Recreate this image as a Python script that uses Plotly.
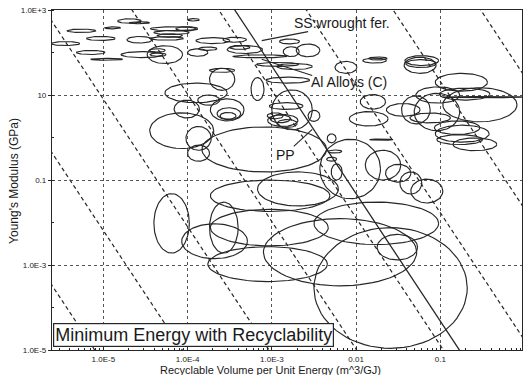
import numpy as np
import plotly.graph_objects as go

# ---- data (log10 units) ----
# ellipse centres: log10 recyclable volume per energy (m^3/GJ) and log10 Young's modulus (GPa)
ell_logV = [-4.69,-5.26,-4.89,-5.03,-5.45,-5.15,-4.96,-4.54,-4.27,-4.57,-4.57,-4.17,-4.19,-4.21,-4.25,-4.01,-3.93,-3.70,-3.88,-4.36,-4.35,-3.76,
            -3.44,-3.32,-3.38,-2.79,-2.77,-2.57,-3.14,-2.93,-2.73,-2.12,-1.78,-1.74,
            -3.59,-3.59,-3.90,-4.01,-3.75,-3.53,-3.51,-3.52,-3.17,-2.81,-2.76,-2.83,-2.87,-2.90,-2.82,-2.96,-2.50,-2.29,-2.25,-2.29,-2.23,
            -4.07,-3.87,-3.87,-3.09,
            -1.22,-1.24,-1.23,-0.75,-1.03,-0.53,-0.71,-0.49,-1.29,-1.04,-1.80,-1.44,-1.85,-0.74,-0.80,-0.77,-0.59,-1.70,-1.12,
            -2.07,-1.68,-1.50,-1.35,-1.16,
            -4.19,-3.68,-3.57,-3.03,-3.05,-1.76,-2.19,-1.59,-1.51,-3.02,-2.69]
ell_logE = [2.74,2.51,2.58,2.33,2.21,2.00,1.84,1.95,1.95,2.30,2.70,2.56,2.47,2.40,2.33,2.56,2.77,2.28,2.00,2.05,1.95,2.09,
            2.30,2.07,2.12,2.26,2.02,2.05,1.91,1.72,1.67,1.65,1.81,1.86,
            1.37,1.58,1.05,0.67,0.88,0.65,0.56,0.51,1.14,1.35,0.65,0.74,0.40,0.44,0.33,0.51,0.51,-0.02,-0.33,-0.51,-0.81,
            0.16,-0.02,-0.37,-0.28,
            1.81,1.70,1.74,1.30,1.00,0.77,1.02,0.95,0.65,0.60,0.84,0.65,0.44,0.09,0.23,-0.05,-0.16,-0.05,0.46,
            -0.74,-0.65,-0.84,-1.07,-1.26,
            -2.02,-2.44,-2.12,-2.12,-2.98,-2.02,-2.70,-3.54,-2.58,-1.37,-1.21]
# half-widths of the ellipses in decades
ell_wV = [0.14,0.17,0.095,0.17,0.17,0.17,0.19,0.25,0.21,0.15,0.12,0.27,0.21,0.15,0.20,0.13,0.07,0.20,0.12,0.095,0.095,0.11,
          0.14,0.21,0.12,0.12,0.095,0.14,0.32,0.25,0.21,0.13,0.14,0.11,
          0.15,0.15,0.37,0.15,0.13,0.20,0.14,0.095,0.077,0.26,0.24,0.20,0.18,0.12,0.12,0.095,0.07,0.053,0.083,0.06,0.065,
          0.38,0.15,0.13,0.74,
          0.20,0.19,0.18,0.31,0.26,0.44,0.30,0.48,0.17,0.27,0.15,0.20,0.23,0.32,0.27,0.27,0.26,0.14,0.24,
          0.36,0.21,0.15,0.13,0.19,
          0.21,0.39,0.17,0.70,0.71,0.74,0.91,0.91,0.24,0.71,0.48]
ell_hE = [0.053,0.04,0.023,0.047,0.047,0.047,0.023,0.07,0.21,0.077,0.023,0.047,0.047,0.04,0.04,0.047,0.028,0.07,0.088,0.04,0.04,0.04,
          0.058,0.093,0.047,0.058,0.116,0.15,0.035,0.047,0.07,0.14,0.058,0.035,
          0.26,0.047,0.23,0.21,0.12,0.26,0.14,0.08,0.27,0.07,0.47,0.08,0.14,0.093,0.093,0.07,0.13,0.105,0.035,0.047,0.19,
          0.42,0.28,0.19,0.53,
          0.116,0.19,0.093,0.21,0.19,0.40,0.14,0.014,0.33,0.44,0.17,0.15,0.17,0.2,0.16,0.116,0.15,0.014,0.116,
          0.7,0.35,0.21,0.26,0.28,
          0.7,0.41,0.6,0.43,0.41,0.5,0.79,1.42,0.3,0.37,0.4]

# guide lines: constant log10(V) + log10(E)/3
guide_dashed = [-6.77,-5.73,-4.70,-3.66,-2.63,-1.59,-0.56,0.48]
guide_solid = -2.44

# labels: text, log10 V, log10 E (text anchor) and leader line ends
labels = ["SS:wrought fer.", "Al Alloys (C)", "PP"]
label_logV = [-2.76, -2.56, -2.98]
label_logE = [2.70, 1.30, -0.40]
leader_logV = [(-2.57, -3.12), (-2.52, -3.12), (-2.74, -2.52)]
leader_logE = [(2.49, 2.28), (1.46, 1.84), (-0.21, 0.19)]

x_tickvals = [1e-5, 1e-4, 1e-3, 1e-2, 1e-1]
x_ticktext = ["1.0E-5", "1.0E-4", "1.0E-3", "0.01", "0.1"]
y_tickvals = [1e3, 10, 0.1, 1e-3, 1e-5]
y_ticktext = ["1.0E+3", "10", "0.1", "1.0E-3", "1.0E-5"]
x_range_log = [-5.61, -0.03]
y_range_log = [-5, 3]

INK = "#262626"
FONT = "Liberation Sans"

fig = go.Figure()

# ellipses (in log space)
t = np.linspace(0, 2 * np.pi, 73)
xs, ys = [], []
for cx, cy, a, b in zip(ell_logV, ell_logE, ell_wV, ell_hE):
    xs += list(10 ** (cx + a * np.cos(t))) + [None]
    ys += list(10 ** (cy + b * np.sin(t))) + [None]
fig.add_trace(go.Scatter(x=xs, y=ys, mode="lines", line=dict(color=INK, width=1.15),
                         hoverinfo="skip", showlegend=False))

# guide lines (slope -3 in log-log)
lx_end = np.array([-6.5, 0.5])
for c in guide_dashed:
    fig.add_trace(go.Scatter(x=10 ** lx_end, y=10 ** (3 * (c - lx_end)), mode="lines",
                             line=dict(color=INK, width=1.2, dash="4px,3px"),
                             hoverinfo="skip", showlegend=False))
fig.add_trace(go.Scatter(x=10 ** lx_end, y=10 ** (3 * (guide_solid - lx_end)), mode="lines",
                         line=dict(color=INK, width=1.3), hoverinfo="skip", showlegend=False))

# leader lines
for lv, le in zip(leader_logV, leader_logE):
    fig.add_trace(go.Scatter(x=[10 ** v for v in lv], y=[10 ** e for e in le], mode="lines",
                             line=dict(color=INK, width=1.15), hoverinfo="skip", showlegend=False))

for txt, lv, le in zip(labels, label_logV, label_logE):
    fig.add_annotation(x=lv, y=le, text=txt, showarrow=False, xanchor="left", yanchor="middle",
                       font=dict(family=FONT, size=14, color="#1a1a1a"))

axis_common = dict(type="log", showline=True, linecolor=INK, linewidth=1.2, mirror=True,
                   showgrid=True, gridcolor="#555555", griddash="dot", gridwidth=1,
                   ticklen=3, tickcolor=INK, zeroline=False,
                   tickfont=dict(family=FONT, size=8, color="#1a1a1a"))

fig.update_xaxes(range=x_range_log, tickmode="array", tickvals=x_tickvals, ticktext=x_ticktext,
                 ticks="inside", ticklabelstandoff=1,
                 minor=dict(ticks="inside", ticklen=2, tickcolor=INK, dtick="D1", showgrid=False),
                 **axis_common)
fig.update_yaxes(range=y_range_log, tickmode="array", tickvals=y_tickvals, ticktext=y_ticktext,
                 ticks="outside",
                 minor=dict(ticks="inside", ticklen=2, tickcolor=INK, dtick=1, showgrid=False),
                 **axis_common)

# axis titles
fig.add_annotation(xref="paper", yref="paper", x=0.464, y=-0.06, text="Recyclable Volume per Unit Energy (m^3/GJ)",
                   showarrow=False, xanchor="center", yanchor="middle",
                   font=dict(family=FONT, size=11, color="#1a1a1a"))
fig.add_annotation(xref="paper", yref="paper", x=-0.081, y=0.497, text="Young's Modulus (GPa)",
                   showarrow=False, textangle=-90, xanchor="center", yanchor="middle",
                   font=dict(family=FONT, size=12, color="#1a1a1a"))

# title box
fig.add_annotation(xref="paper", yref="paper", x=0.002, y=0.009, xanchor="left", yanchor="bottom",
                   text="Minimum Energy with Recyclability", showarrow=False,
                   font=dict(family=FONT, size=18, color="#1a1a1a"),
                   bgcolor="white", bordercolor=INK, borderwidth=1.2, borderpad=1)

fig.update_layout(width=529, height=375, margin=dict(l=52, r=7, t=6, b=25),
                  paper_bgcolor="white", plot_bgcolor="white", showlegend=False)

fig.write_html("out.html")
